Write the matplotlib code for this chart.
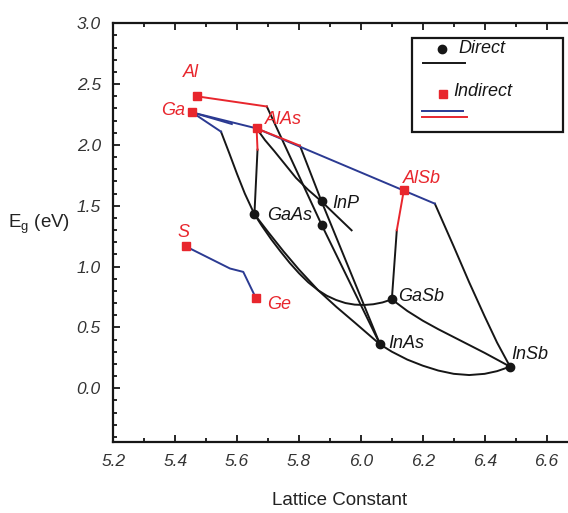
import matplotlib
matplotlib.use('Agg')
import matplotlib.pyplot as plt
from matplotlib.patches import Rectangle

plt.rcParams['font.family'] = ['Liberation Sans', 'DejaVu Sans']
plt.rcParams['mathtext.fontset'] = 'custom'
plt.rcParams['mathtext.rm'] = 'Liberation Sans'

RED = '#e8262d'
BLUE = '#2b3a92'
BLACK = '#161616'

# binary compounds (lattice constant, gap)
direct_x = [5.656, 5.873, 5.873, 6.100, 6.062, 6.482]
direct_y = [1.430, 1.535, 1.344, 0.730, 0.360, 0.177]
indirect_x = [5.469, 5.455, 5.663, 5.434, 5.660, 6.139]
indirect_y = [2.400, 2.267, 2.136, 1.166, 0.745, 1.631]

# indirect (blue) branches
blue_gap_alas_x = [5.455, 5.663, 6.239]
blue_gap_alas_y = [2.267, 2.136, 1.517]
blue_gap_short_x = [5.455, 5.583]
blue_gap_short_y = [2.267, 2.172]
blue_gap_gaas_x = [5.455, 5.548]
blue_gap_gaas_y = [2.267, 2.109]
blue_si_ge_x = [5.434, 5.577, 5.620, 5.660]
blue_si_ge_y = [1.166, 0.984, 0.956, 0.745]

# indirect (red) branches
red_alp_x = [5.469, 5.696]
red_alp_y = [2.400, 2.316]
red_alas_gaas_x = [5.663, 5.666]
red_alas_gaas_y = [2.136, 1.961]
red_alas_inas_x = [5.663, 5.803]
red_alas_inas_y = [2.136, 1.994]
red_alsb_x = [6.139, 6.116]
red_alsb_y = [1.631, 1.298]

# direct (black) branches
blk_gap_gaas_x = [5.548, 5.575, 5.600, 5.625, 5.656]
blk_gap_gaas_y = [2.109, 1.930, 1.760, 1.600, 1.430]
blk_alas_gaas_x = [5.666, 5.656]
blk_alas_gaas_y = [1.961, 1.430]
blk_alp_inas_x = [5.696, 5.873, 6.062]
blk_alp_inas_y = [2.316, 1.344, 0.360]
blk_alas_inas_x = [5.803, 5.873, 6.062]
blk_alas_inas_y = [1.994, 1.535, 0.360]
blk_alas_curve_x = [5.663, 5.690, 5.720, 5.755, 5.790, 5.830, 5.873, 5.920, 5.970]
blk_alas_curve_y = [2.136, 2.040, 1.950, 1.840, 1.730, 1.630, 1.535, 1.420, 1.298]
blk_alsb_gasb_x = [6.116, 6.100]
blk_alsb_gasb_y = [1.298, 0.730]
blk_alsb_insb_x = [6.239, 6.300, 6.350, 6.400, 6.440, 6.482]
blk_alsb_insb_y = [1.517, 1.165, 0.870, 0.590, 0.375, 0.177]
blk_gaas_gasb_x = [5.656, 5.680, 5.710, 5.740, 5.770, 5.800, 5.830, 5.862, 5.890,
                   5.920, 5.950, 5.980, 6.010, 6.040, 6.070, 6.100]
blk_gaas_gasb_y = [1.430, 1.335, 1.225, 1.125, 1.030, 0.945, 0.870, 0.805, 0.760,
                   0.725, 0.700, 0.687, 0.684, 0.690, 0.705, 0.730]
blk_gaas_inas_x = [5.656, 5.700, 5.750, 5.800, 5.862, 5.920, 5.980, 6.030, 6.062]
blk_gaas_inas_y = [1.430, 1.285, 1.125, 0.975, 0.805, 0.670, 0.540, 0.430, 0.360]
blk_inas_insb_x = [6.062, 6.100, 6.150, 6.200, 6.250, 6.300, 6.350, 6.400, 6.440, 6.482]
blk_inas_insb_y = [0.360, 0.300, 0.235, 0.185, 0.145, 0.118, 0.108, 0.118, 0.140, 0.177]
blk_gasb_insb_x = [6.100, 6.150, 6.200, 6.250, 6.300, 6.350, 6.400, 6.440, 6.482]
blk_gasb_insb_y = [0.730, 0.635, 0.555, 0.485, 0.420, 0.355, 0.290, 0.235, 0.177]

# labels
lab_text = ['Al', 'Ga', 'AlAs', 'S', 'Ge', 'AlSb', 'GaAs', 'InP', 'GaSb', 'InAs', 'InSb']
lab_x = [5.425, 5.356, 5.690, 5.408, 5.696, 6.137, 5.696, 5.906, 6.121, 6.089, 6.487]
lab_y = [2.595, 2.282, 2.213, 1.284, 0.691, 1.720, 1.420, 1.516, 0.751, 0.369, 0.273]
lab_col = [RED, RED, RED, RED, RED, RED, BLACK, BLACK, BLACK, BLACK, BLACK]

fig = plt.figure(figsize=(5.68, 5.13), dpi=100)
ax = fig.add_axes([113.3 / 568, 71.3 / 513, 479.7 / 568, 418.4 / 513])

lw = 1.4
blue_lines = [(blue_gap_alas_x, blue_gap_alas_y), (blue_gap_short_x, blue_gap_short_y),
              (blue_gap_gaas_x, blue_gap_gaas_y), (blue_si_ge_x, blue_si_ge_y)]
red_lines = [(red_alp_x, red_alp_y), (red_alas_gaas_x, red_alas_gaas_y),
             (red_alas_inas_x, red_alas_inas_y), (red_alsb_x, red_alsb_y)]
black_lines = [(blk_gap_gaas_x, blk_gap_gaas_y), (blk_alas_gaas_x, blk_alas_gaas_y),
               (blk_alp_inas_x, blk_alp_inas_y), (blk_alas_inas_x, blk_alas_inas_y),
               (blk_alas_curve_x, blk_alas_curve_y), (blk_alsb_gasb_x, blk_alsb_gasb_y),
               (blk_alsb_insb_x, blk_alsb_insb_y), (blk_gaas_gasb_x, blk_gaas_gasb_y),
               (blk_gaas_inas_x, blk_gaas_inas_y), (blk_inas_insb_x, blk_inas_insb_y),
               (blk_gasb_insb_x, blk_gasb_insb_y)]

for xs, ys in black_lines:
    ax.plot(xs, ys, color=BLACK, lw=lw, zorder=2, solid_joinstyle='round')
for xs, ys in blue_lines:
    ax.plot(xs, ys, color=BLUE, lw=lw, zorder=3)
for xs, ys in red_lines:
    ax.plot(xs, ys, color=RED, lw=lw, zorder=4)

ax.plot(direct_x, direct_y, 'o', color=BLACK, ms=6, zorder=5)
ax.plot(indirect_x, indirect_y, 's', color=RED, ms=6, zorder=5)

for t, x, y, c in zip(lab_text, lab_x, lab_y, lab_col):
    ax.text(x, y, t, color=c, fontsize=13, style='italic', ha='left', va='center', zorder=6)

# legend drawn by hand
ax.add_patch(Rectangle((0.622, 0.741), 0.3155, 0.223, transform=ax.transAxes,
                       fill=False, lw=1.6, ec=BLACK, zorder=7))
ax.plot([0.6846], [0.9379], 'o', color=BLACK, ms=6, transform=ax.transAxes, zorder=8)
ax.text(0.7192, 0.9402, 'Direct', transform=ax.transAxes, fontsize=13, style='italic',
        va='center', ha='left', color=BLACK)
ax.plot([0.645, 0.7332], [0.9044, 0.9044], color=BLACK, lw=lw, transform=ax.transAxes)
ax.plot([0.688], [0.831], 's', color=RED, ms=6, transform=ax.transAxes, zorder=8)
ax.text(0.7088, 0.8365, 'Indirect', transform=ax.transAxes, fontsize=13, style='italic',
        va='center', ha='left', color=BLACK)
ax.plot([0.6435, 0.7296], [0.7911, 0.7911], color=BLUE, lw=lw, transform=ax.transAxes)
ax.plot([0.6435, 0.7367], [0.7753, 0.7753], color=RED, lw=lw, transform=ax.transAxes)

ax.set_xlim(5.2, 6.75)
ax.set_ylim(-0.44, 2.99)
ax.set_xticks([5.2, 5.4, 5.6, 5.8, 6.0, 6.2, 6.4, 6.6])
ax.set_xticks([5.3, 5.5, 5.7, 5.9, 6.1, 6.3, 6.5, 6.7], minor=True)
ax.set_yticks([0.0, 0.5, 1.0, 1.5, 2.0, 2.5, 3.0])
ax.set_yticks([-0.4, -0.3, -0.2, -0.1, 0.1, 0.2, 0.3, 0.4, 0.6, 0.7, 0.8, 0.9,
               1.1, 1.2, 1.3, 1.4, 1.6, 1.7, 1.8, 1.9, 2.1, 2.2, 2.3, 2.4,
               2.6, 2.7, 2.8, 2.9], minor=True)
ax.set_xticklabels(['5.2', '5.4', '5.6', '5.8', '6.0', '6.2', '6.4', '6.6'])
ax.set_yticklabels(['0.0', '0.5', '1.0', '1.5', '2.0', '2.5', '3.0'])
for lab in ax.get_xticklabels() + ax.get_yticklabels():
    lab.set_fontstyle('italic')
ax.tick_params(which='both', direction='in', top=True, right=True, colors=BLACK,
               labelcolor='#333333', labelsize=12.5, width=1.3, pad=9)
ax.tick_params(which='major', length=5)
ax.tick_params(which='minor', length=3)
for sp in ax.spines.values():
    sp.set_linewidth(1.6)
    sp.set_color(BLACK)

ax.set_xlabel('Lattice Constant', fontsize=13.5, color='#222222')
ax.xaxis.set_label_coords(0.4726, -0.12)
ax.set_ylabel(r'E$_{\rm g}$ (eV)', fontsize=13.5, color='#222222', rotation=0,
              ha='center', va='center')
ax.yaxis.set_label_coords(-0.155, 0.52)

fig.savefig('out.png', dpi=100)
